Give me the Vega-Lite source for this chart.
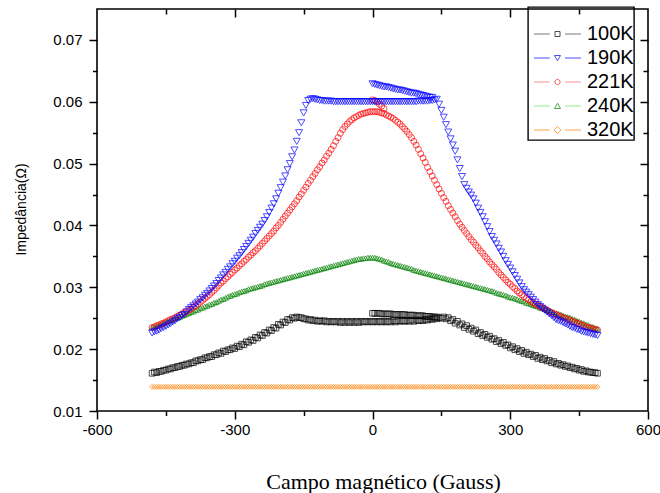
{
  "$schema": "https://vega.github.io/schema/vega-lite/v6.json",
  "width": 551,
  "height": 402,
  "autosize": {"type": "none"},
  "padding": {"left": 97, "top": 9, "right": 12, "bottom": 82},
  "background": "white",
  "data": {
    "values": [
      {"T":"100K","H":-480,"Z":0.0161},{"T":"100K","H":-470,"Z":0.0162},{"T":"100K","H":-460,"Z":0.0164},{"T":"100K","H":-450,"Z":0.0166},{"T":"100K","H":-440,"Z":0.0168},{"T":"100K","H":-430,"Z":0.0170},{"T":"100K","H":-420,"Z":0.0172},{"T":"100K","H":-410,"Z":0.0174},{"T":"100K","H":-400,"Z":0.0176},{"T":"100K","H":-390,"Z":0.0178},
      {"T":"100K","H":-380,"Z":0.0181},{"T":"100K","H":-370,"Z":0.0183},{"T":"100K","H":-360,"Z":0.0186},{"T":"100K","H":-350,"Z":0.0188},{"T":"100K","H":-340,"Z":0.0191},{"T":"100K","H":-330,"Z":0.0193},{"T":"100K","H":-320,"Z":0.0196},{"T":"100K","H":-310,"Z":0.0199},{"T":"100K","H":-300,"Z":0.0201},{"T":"100K","H":-290,"Z":0.0204},
      {"T":"100K","H":-280,"Z":0.0207},{"T":"100K","H":-270,"Z":0.0211},{"T":"100K","H":-260,"Z":0.0214},{"T":"100K","H":-250,"Z":0.0218},{"T":"100K","H":-240,"Z":0.0222},{"T":"100K","H":-230,"Z":0.0226},{"T":"100K","H":-220,"Z":0.0230},{"T":"100K","H":-210,"Z":0.0234},{"T":"100K","H":-200,"Z":0.0239},{"T":"100K","H":-190,"Z":0.0243},
      {"T":"100K","H":-180,"Z":0.0247},{"T":"100K","H":-170,"Z":0.0250},{"T":"100K","H":-160,"Z":0.0251},{"T":"100K","H":-150,"Z":0.0249},{"T":"100K","H":-140,"Z":0.0247},{"T":"100K","H":-130,"Z":0.0246},{"T":"100K","H":-120,"Z":0.0245},{"T":"100K","H":-110,"Z":0.0245},{"T":"100K","H":-100,"Z":0.0244},{"T":"100K","H":-90,"Z":0.0244},
      {"T":"100K","H":-80,"Z":0.0244},{"T":"100K","H":-70,"Z":0.0243},{"T":"100K","H":-60,"Z":0.0243},{"T":"100K","H":-50,"Z":0.0243},{"T":"100K","H":-40,"Z":0.0243},{"T":"100K","H":-30,"Z":0.0243},{"T":"100K","H":-20,"Z":0.0244},{"T":"100K","H":-10,"Z":0.0244},{"T":"100K","H":0,"Z":0.0244},{"T":"100K","H":10,"Z":0.0244},
      {"T":"100K","H":20,"Z":0.0244},{"T":"100K","H":30,"Z":0.0244},{"T":"100K","H":40,"Z":0.0244},{"T":"100K","H":50,"Z":0.0244},{"T":"100K","H":60,"Z":0.0245},{"T":"100K","H":70,"Z":0.0245},{"T":"100K","H":80,"Z":0.0245},{"T":"100K","H":90,"Z":0.0245},{"T":"100K","H":100,"Z":0.0246},{"T":"100K","H":110,"Z":0.0246},
      {"T":"100K","H":120,"Z":0.0247},{"T":"100K","H":130,"Z":0.0248},{"T":"100K","H":140,"Z":0.0249},{"T":"100K","H":150,"Z":0.0250},{"T":"100K","H":160,"Z":0.0249},{"T":"100K","H":170,"Z":0.0246},{"T":"100K","H":180,"Z":0.0242},{"T":"100K","H":190,"Z":0.0239},{"T":"100K","H":200,"Z":0.0235},{"T":"100K","H":210,"Z":0.0232},
      {"T":"100K","H":220,"Z":0.0229},{"T":"100K","H":230,"Z":0.0225},{"T":"100K","H":240,"Z":0.0222},{"T":"100K","H":250,"Z":0.0219},{"T":"100K","H":260,"Z":0.0216},{"T":"100K","H":270,"Z":0.0212},{"T":"100K","H":280,"Z":0.0209},{"T":"100K","H":290,"Z":0.0206},{"T":"100K","H":300,"Z":0.0202},{"T":"100K","H":310,"Z":0.0199},
      {"T":"100K","H":320,"Z":0.0196},{"T":"100K","H":330,"Z":0.0193},{"T":"100K","H":340,"Z":0.0191},{"T":"100K","H":350,"Z":0.0188},{"T":"100K","H":360,"Z":0.0185},{"T":"100K","H":370,"Z":0.0183},{"T":"100K","H":380,"Z":0.0181},{"T":"100K","H":390,"Z":0.0178},{"T":"100K","H":400,"Z":0.0176},{"T":"100K","H":410,"Z":0.0174},
      {"T":"100K","H":420,"Z":0.0172},{"T":"100K","H":430,"Z":0.0170},{"T":"100K","H":440,"Z":0.0168},{"T":"100K","H":450,"Z":0.0166},{"T":"100K","H":460,"Z":0.0164},{"T":"100K","H":470,"Z":0.0163},{"T":"100K","H":480,"Z":0.0162},{"T":"100K","H":490,"Z":0.0161},
      {"T":"100K","H":-475,"Z":0.0163},{"T":"100K","H":-465,"Z":0.0164},{"T":"100K","H":-455,"Z":0.0166},{"T":"100K","H":-445,"Z":0.0168},{"T":"100K","H":-435,"Z":0.0170},{"T":"100K","H":-425,"Z":0.0172},{"T":"100K","H":-415,"Z":0.0174},{"T":"100K","H":-405,"Z":0.0176},{"T":"100K","H":-395,"Z":0.0178},{"T":"100K","H":-385,"Z":0.0181},
      {"T":"100K","H":-375,"Z":0.0183},{"T":"100K","H":-365,"Z":0.0186},{"T":"100K","H":-355,"Z":0.0188},{"T":"100K","H":-345,"Z":0.0191},{"T":"100K","H":-335,"Z":0.0194},{"T":"100K","H":-325,"Z":0.0197},{"T":"100K","H":-315,"Z":0.0199},{"T":"100K","H":-305,"Z":0.0202},{"T":"100K","H":-295,"Z":0.0205},{"T":"100K","H":-285,"Z":0.0208},
      {"T":"100K","H":-275,"Z":0.0212},{"T":"100K","H":-265,"Z":0.0215},{"T":"100K","H":-255,"Z":0.0219},{"T":"100K","H":-245,"Z":0.0223},{"T":"100K","H":-235,"Z":0.0227},{"T":"100K","H":-225,"Z":0.0231},{"T":"100K","H":-215,"Z":0.0235},{"T":"100K","H":-205,"Z":0.0240},{"T":"100K","H":-195,"Z":0.0244},{"T":"100K","H":-185,"Z":0.0248},
      {"T":"100K","H":-175,"Z":0.0251},{"T":"100K","H":-165,"Z":0.0252},{"T":"100K","H":-155,"Z":0.0251},{"T":"100K","H":-145,"Z":0.0249},{"T":"100K","H":-135,"Z":0.0248},{"T":"100K","H":-125,"Z":0.0247},{"T":"100K","H":-115,"Z":0.0246},{"T":"100K","H":-105,"Z":0.0246},{"T":"100K","H":-95,"Z":0.0245},{"T":"100K","H":-85,"Z":0.0245},
      {"T":"100K","H":-75,"Z":0.0245},{"T":"100K","H":-65,"Z":0.0245},{"T":"100K","H":-55,"Z":0.0245},{"T":"100K","H":-45,"Z":0.0245},{"T":"100K","H":-35,"Z":0.0245},{"T":"100K","H":-25,"Z":0.0245},{"T":"100K","H":-15,"Z":0.0245},{"T":"100K","H":-5,"Z":0.0245},{"T":"100K","H":5,"Z":0.0245},{"T":"100K","H":15,"Z":0.0245},
      {"T":"100K","H":25,"Z":0.0245},{"T":"100K","H":35,"Z":0.0245},{"T":"100K","H":45,"Z":0.0246},{"T":"100K","H":55,"Z":0.0246},{"T":"100K","H":65,"Z":0.0246},{"T":"100K","H":75,"Z":0.0246},{"T":"100K","H":85,"Z":0.0247},{"T":"100K","H":95,"Z":0.0247},{"T":"100K","H":105,"Z":0.0247},{"T":"100K","H":115,"Z":0.0248},
      {"T":"100K","H":125,"Z":0.0249},{"T":"100K","H":135,"Z":0.0250},{"T":"100K","H":145,"Z":0.0251},{"T":"100K","H":155,"Z":0.0252},{"T":"100K","H":165,"Z":0.0251},{"T":"100K","H":175,"Z":0.0248},{"T":"100K","H":185,"Z":0.0245},{"T":"100K","H":195,"Z":0.0241},{"T":"100K","H":205,"Z":0.0238},{"T":"100K","H":215,"Z":0.0234},
      {"T":"100K","H":225,"Z":0.0231},{"T":"100K","H":235,"Z":0.0227},{"T":"100K","H":245,"Z":0.0224},{"T":"100K","H":255,"Z":0.0221},{"T":"100K","H":265,"Z":0.0217},{"T":"100K","H":275,"Z":0.0214},{"T":"100K","H":285,"Z":0.0211},{"T":"100K","H":295,"Z":0.0207},{"T":"100K","H":305,"Z":0.0204},{"T":"100K","H":315,"Z":0.0201},
      {"T":"100K","H":325,"Z":0.0198},{"T":"100K","H":335,"Z":0.0195},{"T":"100K","H":345,"Z":0.0192},{"T":"100K","H":355,"Z":0.0190},{"T":"100K","H":365,"Z":0.0187},{"T":"100K","H":375,"Z":0.0185},{"T":"100K","H":385,"Z":0.0182},{"T":"100K","H":395,"Z":0.0180},{"T":"100K","H":405,"Z":0.0177},{"T":"100K","H":415,"Z":0.0175},
      {"T":"100K","H":425,"Z":0.0173},{"T":"100K","H":435,"Z":0.0171},{"T":"100K","H":445,"Z":0.0169},{"T":"100K","H":455,"Z":0.0167},{"T":"100K","H":465,"Z":0.0165},{"T":"100K","H":475,"Z":0.0163},{"T":"100K","H":485,"Z":0.0162},
      {"T":"100K","H":0,"Z":0.0258},{"T":"100K","H":5,"Z":0.0258},{"T":"100K","H":10,"Z":0.0258},{"T":"100K","H":15,"Z":0.0258},{"T":"100K","H":20,"Z":0.0257},{"T":"100K","H":25,"Z":0.0257},{"T":"100K","H":30,"Z":0.0257},{"T":"100K","H":35,"Z":0.0257},{"T":"100K","H":40,"Z":0.0257},{"T":"100K","H":45,"Z":0.0256},{"T":"100K","H":50,"Z":0.0256},{"T":"100K","H":55,"Z":0.0256},{"T":"100K","H":60,"Z":0.0256},{"T":"100K","H":65,"Z":0.0256},{"T":"100K","H":70,"Z":0.0256},{"T":"100K","H":75,"Z":0.0255},{"T":"100K","H":80,"Z":0.0255},{"T":"100K","H":85,"Z":0.0255},{"T":"100K","H":90,"Z":0.0255},{"T":"100K","H":95,"Z":0.0254},{"T":"100K","H":100,"Z":0.0254},{"T":"100K","H":105,"Z":0.0254},{"T":"100K","H":110,"Z":0.0254},{"T":"100K","H":115,"Z":0.0253},{"T":"100K","H":120,"Z":0.0253},{"T":"100K","H":125,"Z":0.0253},{"T":"100K","H":130,"Z":0.0252},{"T":"100K","H":135,"Z":0.0252},{"T":"100K","H":140,"Z":0.0252},

      {"T":"240K","H":-480,"Z":0.0235},{"T":"240K","H":-470,"Z":0.0238},{"T":"240K","H":-460,"Z":0.0241},{"T":"240K","H":-450,"Z":0.0244},{"T":"240K","H":-440,"Z":0.0247},{"T":"240K","H":-430,"Z":0.0250},{"T":"240K","H":-420,"Z":0.0252},{"T":"240K","H":-410,"Z":0.0255},{"T":"240K","H":-400,"Z":0.0258},{"T":"240K","H":-390,"Z":0.0261},
      {"T":"240K","H":-380,"Z":0.0264},{"T":"240K","H":-370,"Z":0.0267},{"T":"240K","H":-360,"Z":0.0270},{"T":"240K","H":-350,"Z":0.0273},{"T":"240K","H":-340,"Z":0.0276},{"T":"240K","H":-330,"Z":0.0280},{"T":"240K","H":-320,"Z":0.0283},{"T":"240K","H":-310,"Z":0.0286},{"T":"240K","H":-300,"Z":0.0289},{"T":"240K","H":-290,"Z":0.0292},
      {"T":"240K","H":-280,"Z":0.0294},{"T":"240K","H":-270,"Z":0.0297},{"T":"240K","H":-260,"Z":0.0299},{"T":"240K","H":-250,"Z":0.0301},{"T":"240K","H":-240,"Z":0.0303},{"T":"240K","H":-230,"Z":0.0306},{"T":"240K","H":-220,"Z":0.0308},{"T":"240K","H":-210,"Z":0.0310},{"T":"240K","H":-200,"Z":0.0312},{"T":"240K","H":-190,"Z":0.0314},
      {"T":"240K","H":-180,"Z":0.0316},{"T":"240K","H":-170,"Z":0.0318},{"T":"240K","H":-160,"Z":0.0320},{"T":"240K","H":-150,"Z":0.0322},{"T":"240K","H":-140,"Z":0.0324},{"T":"240K","H":-130,"Z":0.0326},{"T":"240K","H":-120,"Z":0.0328},{"T":"240K","H":-110,"Z":0.0330},{"T":"240K","H":-100,"Z":0.0332},{"T":"240K","H":-90,"Z":0.0334},
      {"T":"240K","H":-80,"Z":0.0336},{"T":"240K","H":-70,"Z":0.0338},{"T":"240K","H":-60,"Z":0.0340},{"T":"240K","H":-50,"Z":0.0342},{"T":"240K","H":-40,"Z":0.0344},{"T":"240K","H":-30,"Z":0.0346},{"T":"240K","H":-20,"Z":0.0347},{"T":"240K","H":-10,"Z":0.0348},{"T":"240K","H":0,"Z":0.0348},{"T":"240K","H":10,"Z":0.0347},
      {"T":"240K","H":20,"Z":0.0345},{"T":"240K","H":30,"Z":0.0342},{"T":"240K","H":40,"Z":0.0339},{"T":"240K","H":50,"Z":0.0337},{"T":"240K","H":60,"Z":0.0335},{"T":"240K","H":70,"Z":0.0333},{"T":"240K","H":80,"Z":0.0331},{"T":"240K","H":90,"Z":0.0328},{"T":"240K","H":100,"Z":0.0326},{"T":"240K","H":110,"Z":0.0324},
      {"T":"240K","H":120,"Z":0.0322},{"T":"240K","H":130,"Z":0.0320},{"T":"240K","H":140,"Z":0.0318},{"T":"240K","H":150,"Z":0.0316},{"T":"240K","H":160,"Z":0.0314},{"T":"240K","H":170,"Z":0.0312},{"T":"240K","H":180,"Z":0.0310},{"T":"240K","H":190,"Z":0.0308},{"T":"240K","H":200,"Z":0.0306},{"T":"240K","H":210,"Z":0.0304},
      {"T":"240K","H":220,"Z":0.0302},{"T":"240K","H":230,"Z":0.0300},{"T":"240K","H":240,"Z":0.0298},{"T":"240K","H":250,"Z":0.0296},{"T":"240K","H":260,"Z":0.0294},{"T":"240K","H":270,"Z":0.0291},{"T":"240K","H":280,"Z":0.0289},{"T":"240K","H":290,"Z":0.0287},{"T":"240K","H":300,"Z":0.0284},{"T":"240K","H":310,"Z":0.0282},
      {"T":"240K","H":320,"Z":0.0279},{"T":"240K","H":330,"Z":0.0277},{"T":"240K","H":340,"Z":0.0274},{"T":"240K","H":350,"Z":0.0271},{"T":"240K","H":360,"Z":0.0269},{"T":"240K","H":370,"Z":0.0266},{"T":"240K","H":380,"Z":0.0263},{"T":"240K","H":390,"Z":0.0261},{"T":"240K","H":400,"Z":0.0258},{"T":"240K","H":410,"Z":0.0256},
      {"T":"240K","H":420,"Z":0.0253},{"T":"240K","H":430,"Z":0.0251},{"T":"240K","H":440,"Z":0.0248},{"T":"240K","H":450,"Z":0.0245},{"T":"240K","H":460,"Z":0.0242},{"T":"240K","H":470,"Z":0.0239},{"T":"240K","H":480,"Z":0.0236},{"T":"240K","H":490,"Z":0.0233},
      {"T":"240K","H":-475,"Z":0.0236},{"T":"240K","H":-465,"Z":0.0239},{"T":"240K","H":-455,"Z":0.0242},{"T":"240K","H":-445,"Z":0.0245},{"T":"240K","H":-435,"Z":0.0248},{"T":"240K","H":-425,"Z":0.0251},{"T":"240K","H":-415,"Z":0.0254},{"T":"240K","H":-405,"Z":0.0257},{"T":"240K","H":-395,"Z":0.0260},{"T":"240K","H":-385,"Z":0.0263},
      {"T":"240K","H":-375,"Z":0.0266},{"T":"240K","H":-365,"Z":0.0269},{"T":"240K","H":-355,"Z":0.0272},{"T":"240K","H":-345,"Z":0.0275},{"T":"240K","H":-335,"Z":0.0278},{"T":"240K","H":-325,"Z":0.0281},{"T":"240K","H":-315,"Z":0.0285},{"T":"240K","H":-305,"Z":0.0288},{"T":"240K","H":-295,"Z":0.0290},{"T":"240K","H":-285,"Z":0.0293},
      {"T":"240K","H":-275,"Z":0.0295},{"T":"240K","H":-265,"Z":0.0298},{"T":"240K","H":-255,"Z":0.0300},{"T":"240K","H":-245,"Z":0.0302},{"T":"240K","H":-235,"Z":0.0305},{"T":"240K","H":-225,"Z":0.0307},{"T":"240K","H":-215,"Z":0.0309},{"T":"240K","H":-205,"Z":0.0311},{"T":"240K","H":-195,"Z":0.0313},{"T":"240K","H":-185,"Z":0.0315},
      {"T":"240K","H":-175,"Z":0.0317},{"T":"240K","H":-165,"Z":0.0319},{"T":"240K","H":-155,"Z":0.0321},{"T":"240K","H":-145,"Z":0.0323},{"T":"240K","H":-135,"Z":0.0325},{"T":"240K","H":-125,"Z":0.0327},{"T":"240K","H":-115,"Z":0.0329},{"T":"240K","H":-105,"Z":0.0331},{"T":"240K","H":-95,"Z":0.0333},{"T":"240K","H":-85,"Z":0.0335},
      {"T":"240K","H":-75,"Z":0.0337},{"T":"240K","H":-65,"Z":0.0339},{"T":"240K","H":-55,"Z":0.0341},{"T":"240K","H":-45,"Z":0.0343},{"T":"240K","H":-35,"Z":0.0345},{"T":"240K","H":-25,"Z":0.0346},{"T":"240K","H":-15,"Z":0.0347},{"T":"240K","H":-5,"Z":0.0348},{"T":"240K","H":5,"Z":0.0348},{"T":"240K","H":15,"Z":0.0346},
      {"T":"240K","H":25,"Z":0.0343},{"T":"240K","H":35,"Z":0.0341},{"T":"240K","H":45,"Z":0.0338},{"T":"240K","H":55,"Z":0.0336},{"T":"240K","H":65,"Z":0.0334},{"T":"240K","H":75,"Z":0.0332},{"T":"240K","H":85,"Z":0.0330},{"T":"240K","H":95,"Z":0.0327},{"T":"240K","H":105,"Z":0.0325},{"T":"240K","H":115,"Z":0.0323},
      {"T":"240K","H":125,"Z":0.0321},{"T":"240K","H":135,"Z":0.0319},{"T":"240K","H":145,"Z":0.0317},{"T":"240K","H":155,"Z":0.0315},{"T":"240K","H":165,"Z":0.0313},{"T":"240K","H":175,"Z":0.0311},{"T":"240K","H":185,"Z":0.0309},{"T":"240K","H":195,"Z":0.0307},{"T":"240K","H":205,"Z":0.0305},{"T":"240K","H":215,"Z":0.0303},
      {"T":"240K","H":225,"Z":0.0301},{"T":"240K","H":235,"Z":0.0299},{"T":"240K","H":245,"Z":0.0297},{"T":"240K","H":255,"Z":0.0295},{"T":"240K","H":265,"Z":0.0293},{"T":"240K","H":275,"Z":0.0290},{"T":"240K","H":285,"Z":0.0288},{"T":"240K","H":295,"Z":0.0285},{"T":"240K","H":305,"Z":0.0283},{"T":"240K","H":315,"Z":0.0281},
      {"T":"240K","H":325,"Z":0.0278},{"T":"240K","H":335,"Z":0.0275},{"T":"240K","H":345,"Z":0.0273},{"T":"240K","H":355,"Z":0.0270},{"T":"240K","H":365,"Z":0.0267},{"T":"240K","H":375,"Z":0.0265},{"T":"240K","H":385,"Z":0.0262},{"T":"240K","H":395,"Z":0.0260},{"T":"240K","H":405,"Z":0.0257},{"T":"240K","H":415,"Z":0.0254},
      {"T":"240K","H":425,"Z":0.0252},{"T":"240K","H":435,"Z":0.0249},{"T":"240K","H":445,"Z":0.0246},{"T":"240K","H":455,"Z":0.0243},{"T":"240K","H":465,"Z":0.0240},{"T":"240K","H":475,"Z":0.0237},{"T":"240K","H":485,"Z":0.0234},

      {"T":"221K","H":-480,"Z":0.0235},{"T":"221K","H":-470,"Z":0.0238},{"T":"221K","H":-460,"Z":0.0241},{"T":"221K","H":-450,"Z":0.0244},{"T":"221K","H":-440,"Z":0.0248},{"T":"221K","H":-430,"Z":0.0251},{"T":"221K","H":-420,"Z":0.0255},{"T":"221K","H":-410,"Z":0.0259},{"T":"221K","H":-400,"Z":0.0263},{"T":"221K","H":-390,"Z":0.0268},
      {"T":"221K","H":-380,"Z":0.0273},{"T":"221K","H":-370,"Z":0.0279},{"T":"221K","H":-360,"Z":0.0285},{"T":"221K","H":-350,"Z":0.0292},{"T":"221K","H":-340,"Z":0.0299},{"T":"221K","H":-330,"Z":0.0307},{"T":"221K","H":-320,"Z":0.0314},{"T":"221K","H":-310,"Z":0.0321},{"T":"221K","H":-300,"Z":0.0328},{"T":"221K","H":-290,"Z":0.0335},
      {"T":"221K","H":-280,"Z":0.0342},{"T":"221K","H":-270,"Z":0.0349},{"T":"221K","H":-260,"Z":0.0356},{"T":"221K","H":-250,"Z":0.0363},{"T":"221K","H":-240,"Z":0.0371},{"T":"221K","H":-230,"Z":0.0379},{"T":"221K","H":-220,"Z":0.0387},{"T":"221K","H":-210,"Z":0.0396},{"T":"221K","H":-200,"Z":0.0405},{"T":"221K","H":-190,"Z":0.0415},
      {"T":"221K","H":-180,"Z":0.0425},{"T":"221K","H":-170,"Z":0.0435},{"T":"221K","H":-160,"Z":0.0446},{"T":"221K","H":-150,"Z":0.0457},{"T":"221K","H":-140,"Z":0.0468},{"T":"221K","H":-130,"Z":0.0479},{"T":"221K","H":-120,"Z":0.0490},{"T":"221K","H":-110,"Z":0.0501},{"T":"221K","H":-100,"Z":0.0512},{"T":"221K","H":-90,"Z":0.0523},
      {"T":"221K","H":-80,"Z":0.0536},{"T":"221K","H":-70,"Z":0.0549},{"T":"221K","H":-60,"Z":0.0560},{"T":"221K","H":-50,"Z":0.0568},{"T":"221K","H":-40,"Z":0.0574},{"T":"221K","H":-30,"Z":0.0578},{"T":"221K","H":-20,"Z":0.0581},{"T":"221K","H":-10,"Z":0.0583},{"T":"221K","H":0,"Z":0.0584},{"T":"221K","H":10,"Z":0.0584},
      {"T":"221K","H":20,"Z":0.0582},{"T":"221K","H":30,"Z":0.0579},{"T":"221K","H":40,"Z":0.0575},{"T":"221K","H":50,"Z":0.0570},{"T":"221K","H":60,"Z":0.0564},{"T":"221K","H":70,"Z":0.0556},{"T":"221K","H":80,"Z":0.0547},{"T":"221K","H":90,"Z":0.0536},{"T":"221K","H":100,"Z":0.0523},{"T":"221K","H":110,"Z":0.0509},
      {"T":"221K","H":120,"Z":0.0494},{"T":"221K","H":130,"Z":0.0480},{"T":"221K","H":140,"Z":0.0466},{"T":"221K","H":150,"Z":0.0452},{"T":"221K","H":160,"Z":0.0439},{"T":"221K","H":170,"Z":0.0426},{"T":"221K","H":180,"Z":0.0414},{"T":"221K","H":190,"Z":0.0402},{"T":"221K","H":200,"Z":0.0392},{"T":"221K","H":210,"Z":0.0382},
      {"T":"221K","H":220,"Z":0.0373},{"T":"221K","H":230,"Z":0.0364},{"T":"221K","H":240,"Z":0.0355},{"T":"221K","H":250,"Z":0.0346},{"T":"221K","H":260,"Z":0.0337},{"T":"221K","H":270,"Z":0.0329},{"T":"221K","H":280,"Z":0.0320},{"T":"221K","H":290,"Z":0.0312},{"T":"221K","H":300,"Z":0.0305},{"T":"221K","H":310,"Z":0.0298},
      {"T":"221K","H":320,"Z":0.0291},{"T":"221K","H":330,"Z":0.0285},{"T":"221K","H":340,"Z":0.0280},{"T":"221K","H":350,"Z":0.0275},{"T":"221K","H":360,"Z":0.0271},{"T":"221K","H":370,"Z":0.0267},{"T":"221K","H":380,"Z":0.0263},{"T":"221K","H":390,"Z":0.0259},{"T":"221K","H":400,"Z":0.0256},{"T":"221K","H":410,"Z":0.0253},
      {"T":"221K","H":420,"Z":0.0250},{"T":"221K","H":430,"Z":0.0247},{"T":"221K","H":440,"Z":0.0244},{"T":"221K","H":450,"Z":0.0241},{"T":"221K","H":460,"Z":0.0238},{"T":"221K","H":470,"Z":0.0235},{"T":"221K","H":480,"Z":0.0233},{"T":"221K","H":490,"Z":0.0231},
      {"T":"221K","H":-475,"Z":0.0236},{"T":"221K","H":-465,"Z":0.0239},{"T":"221K","H":-455,"Z":0.0242},{"T":"221K","H":-445,"Z":0.0246},{"T":"221K","H":-435,"Z":0.0249},{"T":"221K","H":-425,"Z":0.0253},{"T":"221K","H":-415,"Z":0.0257},{"T":"221K","H":-405,"Z":0.0261},{"T":"221K","H":-395,"Z":0.0265},{"T":"221K","H":-385,"Z":0.0270},
      {"T":"221K","H":-375,"Z":0.0276},{"T":"221K","H":-365,"Z":0.0282},{"T":"221K","H":-355,"Z":0.0288},{"T":"221K","H":-345,"Z":0.0295},{"T":"221K","H":-335,"Z":0.0303},{"T":"221K","H":-325,"Z":0.0310},{"T":"221K","H":-315,"Z":0.0317},{"T":"221K","H":-305,"Z":0.0324},{"T":"221K","H":-295,"Z":0.0331},{"T":"221K","H":-285,"Z":0.0338},
      {"T":"221K","H":-275,"Z":0.0345},{"T":"221K","H":-265,"Z":0.0352},{"T":"221K","H":-255,"Z":0.0359},{"T":"221K","H":-245,"Z":0.0367},{"T":"221K","H":-235,"Z":0.0375},{"T":"221K","H":-225,"Z":0.0383},{"T":"221K","H":-215,"Z":0.0391},{"T":"221K","H":-205,"Z":0.0400},{"T":"221K","H":-195,"Z":0.0410},{"T":"221K","H":-185,"Z":0.0420},
      {"T":"221K","H":-175,"Z":0.0430},{"T":"221K","H":-165,"Z":0.0440},{"T":"221K","H":-155,"Z":0.0451},{"T":"221K","H":-145,"Z":0.0462},{"T":"221K","H":-135,"Z":0.0473},{"T":"221K","H":-125,"Z":0.0484},{"T":"221K","H":-115,"Z":0.0495},{"T":"221K","H":-105,"Z":0.0506},{"T":"221K","H":-95,"Z":0.0517},{"T":"221K","H":-85,"Z":0.0529},
      {"T":"221K","H":-75,"Z":0.0542},{"T":"221K","H":-65,"Z":0.0555},{"T":"221K","H":-55,"Z":0.0564},{"T":"221K","H":-45,"Z":0.0571},{"T":"221K","H":-35,"Z":0.0576},{"T":"221K","H":-25,"Z":0.0580},{"T":"221K","H":-15,"Z":0.0582},{"T":"221K","H":-5,"Z":0.0584},{"T":"221K","H":5,"Z":0.0584},{"T":"221K","H":15,"Z":0.0583},
      {"T":"221K","H":25,"Z":0.0581},{"T":"221K","H":35,"Z":0.0577},{"T":"221K","H":45,"Z":0.0573},{"T":"221K","H":55,"Z":0.0567},{"T":"221K","H":65,"Z":0.0560},{"T":"221K","H":75,"Z":0.0552},{"T":"221K","H":85,"Z":0.0542},{"T":"221K","H":95,"Z":0.0530},{"T":"221K","H":105,"Z":0.0516},{"T":"221K","H":115,"Z":0.0502},
      {"T":"221K","H":125,"Z":0.0487},{"T":"221K","H":135,"Z":0.0473},{"T":"221K","H":145,"Z":0.0459},{"T":"221K","H":155,"Z":0.0445},{"T":"221K","H":165,"Z":0.0432},{"T":"221K","H":175,"Z":0.0420},{"T":"221K","H":185,"Z":0.0408},{"T":"221K","H":195,"Z":0.0397},{"T":"221K","H":205,"Z":0.0387},{"T":"221K","H":215,"Z":0.0377},
      {"T":"221K","H":225,"Z":0.0368},{"T":"221K","H":235,"Z":0.0359},{"T":"221K","H":245,"Z":0.0350},{"T":"221K","H":255,"Z":0.0341},{"T":"221K","H":265,"Z":0.0333},{"T":"221K","H":275,"Z":0.0324},{"T":"221K","H":285,"Z":0.0316},{"T":"221K","H":295,"Z":0.0308},{"T":"221K","H":305,"Z":0.0301},{"T":"221K","H":315,"Z":0.0294},
      {"T":"221K","H":325,"Z":0.0288},{"T":"221K","H":335,"Z":0.0282},{"T":"221K","H":345,"Z":0.0277},{"T":"221K","H":355,"Z":0.0273},{"T":"221K","H":365,"Z":0.0269},{"T":"221K","H":375,"Z":0.0265},{"T":"221K","H":385,"Z":0.0261},{"T":"221K","H":395,"Z":0.0257},{"T":"221K","H":405,"Z":0.0254},{"T":"221K","H":415,"Z":0.0251},
      {"T":"221K","H":425,"Z":0.0248},{"T":"221K","H":435,"Z":0.0245},{"T":"221K","H":445,"Z":0.0242},{"T":"221K","H":455,"Z":0.0239},{"T":"221K","H":465,"Z":0.0236},{"T":"221K","H":475,"Z":0.0234},{"T":"221K","H":485,"Z":0.0232},
      {"T":"221K","H":0,"Z":0.0603},{"T":"221K","H":5,"Z":0.0602},{"T":"221K","H":10,"Z":0.0600},{"T":"221K","H":15,"Z":0.0596},{"T":"221K","H":20,"Z":0.0593},{"T":"221K","H":25,"Z":0.0589},

      {"T":"190K","H":-480,"Z":0.0226},{"T":"190K","H":-470,"Z":0.0229},{"T":"190K","H":-460,"Z":0.0233},{"T":"190K","H":-450,"Z":0.0237},{"T":"190K","H":-440,"Z":0.0241},{"T":"190K","H":-430,"Z":0.0246},{"T":"190K","H":-420,"Z":0.0251},{"T":"190K","H":-410,"Z":0.0256},{"T":"190K","H":-400,"Z":0.0264},{"T":"190K","H":-390,"Z":0.0270},
      {"T":"190K","H":-380,"Z":0.0276},{"T":"190K","H":-370,"Z":0.0283},{"T":"190K","H":-360,"Z":0.0290},{"T":"190K","H":-350,"Z":0.0298},{"T":"190K","H":-340,"Z":0.0306},{"T":"190K","H":-330,"Z":0.0315},{"T":"190K","H":-320,"Z":0.0324},{"T":"190K","H":-310,"Z":0.0333},{"T":"190K","H":-300,"Z":0.0342},{"T":"190K","H":-290,"Z":0.0351},
      {"T":"190K","H":-280,"Z":0.0361},{"T":"190K","H":-270,"Z":0.0371},{"T":"190K","H":-260,"Z":0.0381},{"T":"190K","H":-250,"Z":0.0392},{"T":"190K","H":-240,"Z":0.0402},{"T":"190K","H":-230,"Z":0.0414},{"T":"190K","H":-220,"Z":0.0428},{"T":"190K","H":-210,"Z":0.0443},{"T":"190K","H":-200,"Z":0.0461},{"T":"190K","H":-190,"Z":0.0480},
      {"T":"190K","H":-180,"Z":0.0500},{"T":"190K","H":-170,"Z":0.0522},{"T":"190K","H":-160,"Z":0.0550},{"T":"190K","H":-150,"Z":0.0582},{"T":"190K","H":-140,"Z":0.0602},{"T":"190K","H":-130,"Z":0.0605},{"T":"190K","H":-120,"Z":0.0603},{"T":"190K","H":-110,"Z":0.0602},{"T":"190K","H":-100,"Z":0.0601},{"T":"190K","H":-90,"Z":0.0601},
      {"T":"190K","H":-80,"Z":0.0600},{"T":"190K","H":-70,"Z":0.0600},{"T":"190K","H":-60,"Z":0.0600},{"T":"190K","H":-50,"Z":0.0600},{"T":"190K","H":-40,"Z":0.0600},{"T":"190K","H":-30,"Z":0.0600},{"T":"190K","H":-20,"Z":0.0600},{"T":"190K","H":-10,"Z":0.0600},{"T":"190K","H":0,"Z":0.0600},{"T":"190K","H":10,"Z":0.0600},
      {"T":"190K","H":20,"Z":0.0600},{"T":"190K","H":30,"Z":0.0600},{"T":"190K","H":40,"Z":0.0600},{"T":"190K","H":50,"Z":0.0600},{"T":"190K","H":60,"Z":0.0600},{"T":"190K","H":70,"Z":0.0600},{"T":"190K","H":80,"Z":0.0600},{"T":"190K","H":90,"Z":0.0600},{"T":"190K","H":100,"Z":0.0601},{"T":"190K","H":110,"Z":0.0601},
      {"T":"190K","H":120,"Z":0.0601},{"T":"190K","H":130,"Z":0.0602},{"T":"190K","H":140,"Z":0.0604},{"T":"190K","H":150,"Z":0.0586},{"T":"190K","H":160,"Z":0.0563},{"T":"190K","H":170,"Z":0.0540},{"T":"190K","H":180,"Z":0.0520},{"T":"190K","H":190,"Z":0.0492},{"T":"190K","H":200,"Z":0.0466},{"T":"190K","H":210,"Z":0.0454},
      {"T":"190K","H":220,"Z":0.0443},{"T":"190K","H":230,"Z":0.0428},{"T":"190K","H":240,"Z":0.0414},{"T":"190K","H":250,"Z":0.0398},{"T":"190K","H":260,"Z":0.0382},{"T":"190K","H":270,"Z":0.0370},{"T":"190K","H":280,"Z":0.0357},{"T":"190K","H":290,"Z":0.0343},{"T":"190K","H":300,"Z":0.0331},{"T":"190K","H":310,"Z":0.0319},
      {"T":"190K","H":320,"Z":0.0307},{"T":"190K","H":330,"Z":0.0296},{"T":"190K","H":340,"Z":0.0288},{"T":"190K","H":350,"Z":0.0280},{"T":"190K","H":360,"Z":0.0272},{"T":"190K","H":370,"Z":0.0266},{"T":"190K","H":380,"Z":0.0260},{"T":"190K","H":390,"Z":0.0254},{"T":"190K","H":400,"Z":0.0248},{"T":"190K","H":410,"Z":0.0245},
      {"T":"190K","H":420,"Z":0.0241},{"T":"190K","H":430,"Z":0.0237},{"T":"190K","H":440,"Z":0.0234},{"T":"190K","H":450,"Z":0.0231},{"T":"190K","H":460,"Z":0.0228},{"T":"190K","H":470,"Z":0.0226},{"T":"190K","H":480,"Z":0.0224},{"T":"190K","H":490,"Z":0.0222},
      {"T":"190K","H":-475,"Z":0.0228},{"T":"190K","H":-465,"Z":0.0231},{"T":"190K","H":-455,"Z":0.0235},{"T":"190K","H":-445,"Z":0.0239},{"T":"190K","H":-435,"Z":0.0244},{"T":"190K","H":-425,"Z":0.0249},{"T":"190K","H":-415,"Z":0.0254},{"T":"190K","H":-405,"Z":0.0260},{"T":"190K","H":-395,"Z":0.0267},{"T":"190K","H":-385,"Z":0.0273},
      {"T":"190K","H":-375,"Z":0.0280},{"T":"190K","H":-365,"Z":0.0287},{"T":"190K","H":-355,"Z":0.0294},{"T":"190K","H":-345,"Z":0.0302},{"T":"190K","H":-335,"Z":0.0311},{"T":"190K","H":-325,"Z":0.0320},{"T":"190K","H":-315,"Z":0.0329},{"T":"190K","H":-305,"Z":0.0338},{"T":"190K","H":-295,"Z":0.0347},{"T":"190K","H":-285,"Z":0.0356},
      {"T":"190K","H":-275,"Z":0.0366},{"T":"190K","H":-265,"Z":0.0376},{"T":"190K","H":-255,"Z":0.0387},{"T":"190K","H":-245,"Z":0.0397},{"T":"190K","H":-235,"Z":0.0408},{"T":"190K","H":-225,"Z":0.0421},{"T":"190K","H":-215,"Z":0.0435},{"T":"190K","H":-205,"Z":0.0452},{"T":"190K","H":-195,"Z":0.0470},{"T":"190K","H":-185,"Z":0.0490},
      {"T":"190K","H":-175,"Z":0.0511},{"T":"190K","H":-165,"Z":0.0536},{"T":"190K","H":-155,"Z":0.0566},{"T":"190K","H":-145,"Z":0.0594},{"T":"190K","H":-135,"Z":0.0604},{"T":"190K","H":-125,"Z":0.0604},{"T":"190K","H":-115,"Z":0.0602},{"T":"190K","H":-105,"Z":0.0601},{"T":"190K","H":-95,"Z":0.0601},{"T":"190K","H":-85,"Z":0.0600},
      {"T":"190K","H":-75,"Z":0.0600},{"T":"190K","H":-65,"Z":0.0600},{"T":"190K","H":-55,"Z":0.0600},{"T":"190K","H":-45,"Z":0.0600},{"T":"190K","H":-35,"Z":0.0600},{"T":"190K","H":-25,"Z":0.0600},{"T":"190K","H":-15,"Z":0.0600},{"T":"190K","H":-5,"Z":0.0600},{"T":"190K","H":5,"Z":0.0600},{"T":"190K","H":15,"Z":0.0600},
      {"T":"190K","H":25,"Z":0.0600},{"T":"190K","H":35,"Z":0.0600},{"T":"190K","H":45,"Z":0.0600},{"T":"190K","H":55,"Z":0.0600},{"T":"190K","H":65,"Z":0.0600},{"T":"190K","H":75,"Z":0.0600},{"T":"190K","H":85,"Z":0.0600},{"T":"190K","H":95,"Z":0.0600},{"T":"190K","H":105,"Z":0.0601},{"T":"190K","H":115,"Z":0.0601},
      {"T":"190K","H":125,"Z":0.0602},{"T":"190K","H":135,"Z":0.0603},{"T":"190K","H":145,"Z":0.0596},{"T":"190K","H":155,"Z":0.0575},{"T":"190K","H":165,"Z":0.0551},{"T":"190K","H":175,"Z":0.0530},{"T":"190K","H":185,"Z":0.0506},{"T":"190K","H":195,"Z":0.0479},{"T":"190K","H":205,"Z":0.0460},{"T":"190K","H":215,"Z":0.0449},
      {"T":"190K","H":225,"Z":0.0436},{"T":"190K","H":235,"Z":0.0421},{"T":"190K","H":245,"Z":0.0406},{"T":"190K","H":255,"Z":0.0390},{"T":"190K","H":265,"Z":0.0376},{"T":"190K","H":275,"Z":0.0363},{"T":"190K","H":285,"Z":0.0350},{"T":"190K","H":295,"Z":0.0337},{"T":"190K","H":305,"Z":0.0325},{"T":"190K","H":315,"Z":0.0313},
      {"T":"190K","H":325,"Z":0.0301},{"T":"190K","H":335,"Z":0.0292},{"T":"190K","H":345,"Z":0.0284},{"T":"190K","H":355,"Z":0.0276},{"T":"190K","H":365,"Z":0.0269},{"T":"190K","H":375,"Z":0.0263},{"T":"190K","H":385,"Z":0.0257},{"T":"190K","H":395,"Z":0.0251},{"T":"190K","H":405,"Z":0.0246},{"T":"190K","H":415,"Z":0.0243},
      {"T":"190K","H":425,"Z":0.0239},{"T":"190K","H":435,"Z":0.0235},{"T":"190K","H":445,"Z":0.0232},{"T":"190K","H":455,"Z":0.0229},{"T":"190K","H":465,"Z":0.0227},{"T":"190K","H":475,"Z":0.0225},{"T":"190K","H":485,"Z":0.0223},
      {"T":"190K","H":0,"Z":0.0629},{"T":"190K","H":5,"Z":0.0628},{"T":"190K","H":10,"Z":0.0627},{"T":"190K","H":15,"Z":0.0626},{"T":"190K","H":20,"Z":0.0625},{"T":"190K","H":25,"Z":0.0624},{"T":"190K","H":30,"Z":0.0624},{"T":"190K","H":35,"Z":0.0623},{"T":"190K","H":40,"Z":0.0622},{"T":"190K","H":45,"Z":0.0621},{"T":"190K","H":50,"Z":0.0620},{"T":"190K","H":55,"Z":0.0619},{"T":"190K","H":60,"Z":0.0619},{"T":"190K","H":65,"Z":0.0618},{"T":"190K","H":70,"Z":0.0617},{"T":"190K","H":75,"Z":0.0616},{"T":"190K","H":80,"Z":0.0615},{"T":"190K","H":85,"Z":0.0614},{"T":"190K","H":90,"Z":0.0614},{"T":"190K","H":95,"Z":0.0613},{"T":"190K","H":100,"Z":0.0612},{"T":"190K","H":105,"Z":0.0611},{"T":"190K","H":110,"Z":0.0610},{"T":"190K","H":115,"Z":0.0609},{"T":"190K","H":120,"Z":0.0608},{"T":"190K","H":125,"Z":0.0607},{"T":"190K","H":130,"Z":0.0607},

      {"T":"320K","H":-480,"Z":0.0139},{"T":"320K","H":-470,"Z":0.0139},{"T":"320K","H":-460,"Z":0.0139},{"T":"320K","H":-450,"Z":0.0139},{"T":"320K","H":-440,"Z":0.0139},{"T":"320K","H":-430,"Z":0.0139},{"T":"320K","H":-420,"Z":0.0139},{"T":"320K","H":-410,"Z":0.0139},{"T":"320K","H":-400,"Z":0.0139},{"T":"320K","H":-390,"Z":0.0139},
      {"T":"320K","H":-380,"Z":0.0139},{"T":"320K","H":-370,"Z":0.0139},{"T":"320K","H":-360,"Z":0.0139},{"T":"320K","H":-350,"Z":0.0139},{"T":"320K","H":-340,"Z":0.0139},{"T":"320K","H":-330,"Z":0.0139},{"T":"320K","H":-320,"Z":0.0139},{"T":"320K","H":-310,"Z":0.0139},{"T":"320K","H":-300,"Z":0.0139},{"T":"320K","H":-290,"Z":0.0139},
      {"T":"320K","H":-280,"Z":0.0139},{"T":"320K","H":-270,"Z":0.0139},{"T":"320K","H":-260,"Z":0.0139},{"T":"320K","H":-250,"Z":0.0139},{"T":"320K","H":-240,"Z":0.0139},{"T":"320K","H":-230,"Z":0.0139},{"T":"320K","H":-220,"Z":0.0139},{"T":"320K","H":-210,"Z":0.0139},{"T":"320K","H":-200,"Z":0.0139},{"T":"320K","H":-190,"Z":0.0139},
      {"T":"320K","H":-180,"Z":0.0139},{"T":"320K","H":-170,"Z":0.0139},{"T":"320K","H":-160,"Z":0.0139},{"T":"320K","H":-150,"Z":0.0139},{"T":"320K","H":-140,"Z":0.0139},{"T":"320K","H":-130,"Z":0.0139},{"T":"320K","H":-120,"Z":0.0139},{"T":"320K","H":-110,"Z":0.0139},{"T":"320K","H":-100,"Z":0.0139},{"T":"320K","H":-90,"Z":0.0139},
      {"T":"320K","H":-80,"Z":0.0139},{"T":"320K","H":-70,"Z":0.0139},{"T":"320K","H":-60,"Z":0.0139},{"T":"320K","H":-50,"Z":0.0139},{"T":"320K","H":-40,"Z":0.0139},{"T":"320K","H":-30,"Z":0.0139},{"T":"320K","H":-20,"Z":0.0139},{"T":"320K","H":-10,"Z":0.0139},{"T":"320K","H":0,"Z":0.0139},{"T":"320K","H":10,"Z":0.0139},
      {"T":"320K","H":20,"Z":0.0139},{"T":"320K","H":30,"Z":0.0139},{"T":"320K","H":40,"Z":0.0139},{"T":"320K","H":50,"Z":0.0139},{"T":"320K","H":60,"Z":0.0139},{"T":"320K","H":70,"Z":0.0139},{"T":"320K","H":80,"Z":0.0139},{"T":"320K","H":90,"Z":0.0139},{"T":"320K","H":100,"Z":0.0139},{"T":"320K","H":110,"Z":0.0139},
      {"T":"320K","H":120,"Z":0.0139},{"T":"320K","H":130,"Z":0.0139},{"T":"320K","H":140,"Z":0.0139},{"T":"320K","H":150,"Z":0.0139},{"T":"320K","H":160,"Z":0.0139},{"T":"320K","H":170,"Z":0.0139},{"T":"320K","H":180,"Z":0.0139},{"T":"320K","H":190,"Z":0.0139},{"T":"320K","H":200,"Z":0.0139},{"T":"320K","H":210,"Z":0.0139},
      {"T":"320K","H":220,"Z":0.0139},{"T":"320K","H":230,"Z":0.0139},{"T":"320K","H":240,"Z":0.0139},{"T":"320K","H":250,"Z":0.0139},{"T":"320K","H":260,"Z":0.0139},{"T":"320K","H":270,"Z":0.0139},{"T":"320K","H":280,"Z":0.0139},{"T":"320K","H":290,"Z":0.0139},{"T":"320K","H":300,"Z":0.0139},{"T":"320K","H":310,"Z":0.0139},
      {"T":"320K","H":320,"Z":0.0139},{"T":"320K","H":330,"Z":0.0139},{"T":"320K","H":340,"Z":0.0139},{"T":"320K","H":350,"Z":0.0139},{"T":"320K","H":360,"Z":0.0139},{"T":"320K","H":370,"Z":0.0139},{"T":"320K","H":380,"Z":0.0139},{"T":"320K","H":390,"Z":0.0139},{"T":"320K","H":400,"Z":0.0139},{"T":"320K","H":410,"Z":0.0139},
      {"T":"320K","H":420,"Z":0.0139},{"T":"320K","H":430,"Z":0.0139},{"T":"320K","H":440,"Z":0.0139},{"T":"320K","H":450,"Z":0.0139},{"T":"320K","H":460,"Z":0.0139},{"T":"320K","H":470,"Z":0.0139},{"T":"320K","H":480,"Z":0.0139},{"T":"320K","H":490,"Z":0.0139},
      {"T":"320K","H":-475,"Z":0.0139},{"T":"320K","H":-465,"Z":0.0139},{"T":"320K","H":-455,"Z":0.0139},{"T":"320K","H":-445,"Z":0.0139},{"T":"320K","H":-435,"Z":0.0139},{"T":"320K","H":-425,"Z":0.0139},{"T":"320K","H":-415,"Z":0.0139},{"T":"320K","H":-405,"Z":0.0139},{"T":"320K","H":-395,"Z":0.0139},{"T":"320K","H":-385,"Z":0.0139},
      {"T":"320K","H":-375,"Z":0.0139},{"T":"320K","H":-365,"Z":0.0139},{"T":"320K","H":-355,"Z":0.0139},{"T":"320K","H":-345,"Z":0.0139},{"T":"320K","H":-335,"Z":0.0139},{"T":"320K","H":-325,"Z":0.0139},{"T":"320K","H":-315,"Z":0.0139},{"T":"320K","H":-305,"Z":0.0139},{"T":"320K","H":-295,"Z":0.0139},{"T":"320K","H":-285,"Z":0.0139},
      {"T":"320K","H":-275,"Z":0.0139},{"T":"320K","H":-265,"Z":0.0139},{"T":"320K","H":-255,"Z":0.0139},{"T":"320K","H":-245,"Z":0.0139},{"T":"320K","H":-235,"Z":0.0139},{"T":"320K","H":-225,"Z":0.0139},{"T":"320K","H":-215,"Z":0.0139},{"T":"320K","H":-205,"Z":0.0139},{"T":"320K","H":-195,"Z":0.0139},{"T":"320K","H":-185,"Z":0.0139},
      {"T":"320K","H":-175,"Z":0.0139},{"T":"320K","H":-165,"Z":0.0139},{"T":"320K","H":-155,"Z":0.0139},{"T":"320K","H":-145,"Z":0.0139},{"T":"320K","H":-135,"Z":0.0139},{"T":"320K","H":-125,"Z":0.0139},{"T":"320K","H":-115,"Z":0.0139},{"T":"320K","H":-105,"Z":0.0139},{"T":"320K","H":-95,"Z":0.0139},{"T":"320K","H":-85,"Z":0.0139},
      {"T":"320K","H":-75,"Z":0.0139},{"T":"320K","H":-65,"Z":0.0139},{"T":"320K","H":-55,"Z":0.0139},{"T":"320K","H":-45,"Z":0.0139},{"T":"320K","H":-35,"Z":0.0139},{"T":"320K","H":-25,"Z":0.0139},{"T":"320K","H":-15,"Z":0.0139},{"T":"320K","H":-5,"Z":0.0139},{"T":"320K","H":5,"Z":0.0139},{"T":"320K","H":15,"Z":0.0139},
      {"T":"320K","H":25,"Z":0.0139},{"T":"320K","H":35,"Z":0.0139},{"T":"320K","H":45,"Z":0.0139},{"T":"320K","H":55,"Z":0.0139},{"T":"320K","H":65,"Z":0.0139},{"T":"320K","H":75,"Z":0.0139},{"T":"320K","H":85,"Z":0.0139},{"T":"320K","H":95,"Z":0.0139},{"T":"320K","H":105,"Z":0.0139},{"T":"320K","H":115,"Z":0.0139},
      {"T":"320K","H":125,"Z":0.0139},{"T":"320K","H":135,"Z":0.0139},{"T":"320K","H":145,"Z":0.0139},{"T":"320K","H":155,"Z":0.0139},{"T":"320K","H":165,"Z":0.0139},{"T":"320K","H":175,"Z":0.0139},{"T":"320K","H":185,"Z":0.0139},{"T":"320K","H":195,"Z":0.0139},{"T":"320K","H":205,"Z":0.0139},{"T":"320K","H":215,"Z":0.0139},
      {"T":"320K","H":225,"Z":0.0139},{"T":"320K","H":235,"Z":0.0139},{"T":"320K","H":245,"Z":0.0139},{"T":"320K","H":255,"Z":0.0139},{"T":"320K","H":265,"Z":0.0139},{"T":"320K","H":275,"Z":0.0139},{"T":"320K","H":285,"Z":0.0139},{"T":"320K","H":295,"Z":0.0139},{"T":"320K","H":305,"Z":0.0139},{"T":"320K","H":315,"Z":0.0139},
      {"T":"320K","H":325,"Z":0.0139},{"T":"320K","H":335,"Z":0.0139},{"T":"320K","H":345,"Z":0.0139},{"T":"320K","H":355,"Z":0.0139},{"T":"320K","H":365,"Z":0.0139},{"T":"320K","H":375,"Z":0.0139},{"T":"320K","H":385,"Z":0.0139},{"T":"320K","H":395,"Z":0.0139},{"T":"320K","H":405,"Z":0.0139},{"T":"320K","H":415,"Z":0.0139},
      {"T":"320K","H":425,"Z":0.0139},{"T":"320K","H":435,"Z":0.0139},{"T":"320K","H":445,"Z":0.0139},{"T":"320K","H":455,"Z":0.0139},{"T":"320K","H":465,"Z":0.0139},{"T":"320K","H":475,"Z":0.0139},{"T":"320K","H":485,"Z":0.0139}
    ]
  },
  "config": {
    "font": "Liberation Sans",
    "view": {"stroke": "black", "strokeWidth": 1.6},
    "axis": {
      "grid": false,
      "domain": false,
      "tickColor": "black",
      "tickWidth": 1.5,
      "labelColor": "black",
      "labelFont": "Liberation Sans",
      "labelFontSize": 15,
      "titleColor": "black",
      "titleFontWeight": "normal"
    },
    "legend": {
      "orient": "none",
      "legendX": 431,
      "legendY": -2,
      "padding": 0,
      "strokeColor": "black",
      "strokeWidth": 1.4,
      "titleFontSize": 7,
      "titlePadding": 10,
      "labelFont": "Liberation Sans",
      "labelFontSize": 20,
      "labelColor": "black",
      "symbolSize": 25,
      "symbolOffset": 19.5,
      "labelOffset": 19.5,
      "rowPadding": 4,
      "symbolStrokeWidth": 1
    }
  },
  "resolve": {
    "axis": {"x": "independent", "y": "independent"},
    "scale": {"shape": "independent", "stroke": "independent"},
    "legend": {"shape": "independent", "stroke": "independent"}
  },
  "layer": [
    {
      "transform": [{"filter": "datum.T == '100K'"}],
      "mark": {"type": "point", "filled": false, "strokeWidth": 1, "size": 32, "shape": "square", "stroke": "#000000"},
      "encoding": {
        "x": {
          "field": "H", "type": "quantitative",
          "scale": {"domain": [-600, 600], "nice": false, "zero": false},
          "axis": {
            "orient": "bottom", "values": [-600, -300, 0, 300, 600], "tickSize": 8, "labelPadding": 3,
            "labelFlush": false, "labelOverlap": false,
            "labelExpr": "datum.value < 0 ? '-' + abs(datum.value) : '' + datum.value",
            "title": "Campo magnético (Gauss)", "titleFont": "Liberation Serif", "titleFontSize": 22,
            "titleX": 286, "titleY": 77, "titleAlign": "center", "titleBaseline": "alphabetic"
          }
        },
        "y": {
          "field": "Z", "type": "quantitative",
          "scale": {"domain": [0.01, 0.075], "nice": false, "zero": false},
          "axis": {
            "orient": "left", "values": [0.01, 0.02, 0.03, 0.04, 0.05, 0.06, 0.07], "format": ".2f",
            "tickSize": 8, "labelPadding": 7, "labelFlush": false, "labelOverlap": false,
            "title": "Impedância(Ω)", "titleFontSize": 14, "titleAngle": -90,
            "titleX": -72, "titleY": 200, "titleAlign": "center", "titleBaseline": "alphabetic"
          }
        }
      }
    },
    {
      "transform": [{"filter": "datum.T == '240K'"}],
      "mark": {"type": "point", "filled": false, "strokeWidth": 1, "size": 30, "shape": "triangle-up", "stroke": "#008000"},
      "encoding": {
        "x": {"field": "H", "type": "quantitative", "axis": null},
        "y": {"field": "Z", "type": "quantitative", "axis": null}
      }
    },
    {
      "transform": [{"filter": "datum.T == '221K'"}],
      "mark": {"type": "point", "filled": false, "strokeWidth": 1, "size": 36, "shape": "circle", "stroke": "#FF0000"},
      "encoding": {
        "x": {"field": "H", "type": "quantitative", "axis": null},
        "y": {"field": "Z", "type": "quantitative", "axis": null}
      }
    },
    {
      "transform": [{"filter": "datum.T == '190K'"}],
      "mark": {"type": "point", "filled": false, "strokeWidth": 1, "size": 50, "shape": "triangle-down", "stroke": "#0000FF"},
      "encoding": {
        "x": {"field": "H", "type": "quantitative", "axis": null},
        "y": {"field": "Z", "type": "quantitative", "axis": null}
      }
    },
    {
      "transform": [{"filter": "datum.T == '320K'"}],
      "mark": {"type": "point", "filled": false, "strokeWidth": 1, "size": 25, "shape": "diamond", "stroke": "#FF8000"},
      "encoding": {
        "x": {"field": "H", "type": "quantitative", "axis": null},
        "y": {"field": "Z", "type": "quantitative", "axis": null}
      }
    },
    {
      "transform": [{"filter": "false"}],
      "mark": {"type": "point", "filled": false, "strokeWidth": 1, "size": 25},
      "encoding": {
        "x": {"field": "H", "type": "quantitative", "axis": null},
        "y": {"field": "Z", "type": "quantitative", "axis": null},
        "shape": {
          "field": "T", "type": "nominal",
          "scale": {"domain": ["100K", "190K", "221K", "240K", "320K"], "range": ["M-9.4,0H-3.1M3,0H9.4", "M-9.4,0H-3.1M3,0H9.4", "M-9.4,0H-3.1M3,0H9.4", "M-9.4,0H-3.1M3,0H9.4", "M-9.4,0H-3.1M3,0H9.4"]},
          "legend": {"title": " ", "labelExpr": "datum.label + '\u00a0\u00a0\u00a0'"}
        },
        "stroke": {
          "field": "T", "type": "nominal",
          "scale": {"domain": ["100K", "190K", "221K", "240K", "320K"], "range": ["#404040", "#0000FF", "#FF6464", "#5EE65E", "#FF8000"]},
          "legend": {"title": " ", "labelExpr": "datum.label + '\u00a0\u00a0\u00a0'"}
        }
      }
    },
    {
      "transform": [{"filter": "false"}],
      "mark": {"type": "point", "filled": false, "strokeWidth": 1, "size": 25},
      "encoding": {
        "x": {"field": "H", "type": "quantitative", "axis": null},
        "y": {"field": "Z", "type": "quantitative", "axis": null},
        "shape": {
          "field": "T", "type": "nominal",
          "scale": {"domain": ["100K", "190K", "221K", "240K", "320K"], "range": ["M-1,-1H1V1H-1Z", "M-1.2,-1H1.2L0,1.1Z", "M-1.05,0A1.05,1.05,0,1,0,1.05,0A1.05,1.05,0,1,0,-1.05,0Z", "M-1.2,1H1.2L0,-1.1Z", "M-1.4,0L0,-1.4L1.4,0L0,1.4Z"]},
          "legend": {"title": " ", "labelOpacity": 0, "strokeColor": "transparent", "labelExpr": "datum.label + '\u00a0\u00a0\u00a0'"}
        },
        "stroke": {
          "field": "T", "type": "nominal",
          "scale": {"domain": ["100K", "190K", "221K", "240K", "320K"], "range": ["#000000", "#0000FF", "#FF0000", "#008000", "#FF8000"]},
          "legend": {"title": " ", "labelOpacity": 0, "strokeColor": "transparent", "labelExpr": "datum.label + '\u00a0\u00a0\u00a0'"}
        }
      }
    },
    {
      "transform": [{"filter": "datum.H == 0 && datum.T == '320K'"}],
      "mark": {"type": "point", "opacity": 0},
      "encoding": {
        "x": {"field": "H", "type": "quantitative", "axis": {"orient": "bottom", "values": [-450, -150, 150, 450], "tickSize": 4.5, "labels": false, "title": null}},
        "y": {"field": "Z", "type": "quantitative", "axis": {"orient": "left", "values": [0.015, 0.025, 0.035, 0.045, 0.055, 0.065], "tickSize": 4.5, "labels": false, "title": null}}
      }
    },
    {
      "transform": [{"filter": "datum.H == 0 && datum.T == '320K'"}],
      "mark": {"type": "point", "opacity": 0},
      "encoding": {
        "x": {"field": "H", "type": "quantitative", "axis": {"orient": "top", "values": [-300, 0, 300], "tickSize": 8, "offset": -8, "labels": false, "title": null}},
        "y": {"field": "Z", "type": "quantitative", "axis": {"orient": "right", "values": [0.02, 0.03, 0.04, 0.05, 0.06, 0.07], "tickSize": 8, "offset": -8, "labels": false, "title": null}}
      }
    },
    {
      "transform": [{"filter": "datum.H == 0 && datum.T == '320K'"}],
      "mark": {"type": "point", "opacity": 0},
      "encoding": {
        "x": {"field": "H", "type": "quantitative", "axis": {"orient": "top", "values": [-450, -150, 150, 450], "tickSize": 5, "offset": -5, "labels": false, "title": null}},
        "y": {"field": "Z", "type": "quantitative", "axis": {"orient": "right", "values": [0.015, 0.025, 0.035, 0.045, 0.055, 0.065], "tickSize": 5, "offset": -5, "labels": false, "title": null}}
      }
    }
  ]
}
